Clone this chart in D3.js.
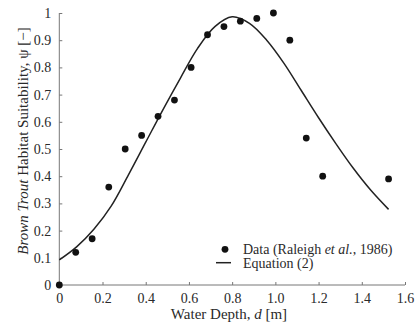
<!DOCTYPE html>
<html><head><meta charset="utf-8">
<script src="https://cdn.jsdelivr.net/npm/d3@7"></script>
<style>
html,body{margin:0;padding:0;background:#fff;}
svg{display:block;}
</style></head>
<body>
<svg id="chart" width="419" height="323"></svg>
<script>
// Observed data (Raleigh et al., 1986)
const dataDepth = [0, 0.076, 0.152, 0.229, 0.305, 0.381, 0.457, 0.533, 0.610, 0.686, 0.762, 0.838, 0.914, 0.991, 1.067, 1.143, 1.219, 1.524];
const dataPsi   = [0, 0.12, 0.17, 0.36, 0.50, 0.55, 0.62, 0.68, 0.80, 0.92, 0.95, 0.97, 0.98, 1.00, 0.90, 0.54, 0.40, 0.39];
// Equation (2) curve
const eqDepth = [0, 0.08, 0.16, 0.24, 0.32, 0.40, 0.48, 0.56, 0.64, 0.72, 0.80, 0.88, 0.96, 1.04, 1.12, 1.20, 1.28, 1.36, 1.44, 1.524];
const eqPsi   = [0.092, 0.14, 0.205, 0.29, 0.405, 0.525, 0.645, 0.76, 0.87, 0.95, 0.986, 0.962, 0.90, 0.815, 0.715, 0.615, 0.52, 0.43, 0.35, 0.278];
const xTicks = [0, 0.2, 0.4, 0.6, 0.8, 1.0, 1.2, 1.4, 1.6];
const xTickLabels = ["0", "0.2", "0.4", "0.6", "0.8", "1.0", "1.2", "1.4", "1.6"];
const yTicks = [0, 0.1, 0.2, 0.3, 0.4, 0.5, 0.6, 0.7, 0.8, 0.9, 1];
const yTickLabels = ["0", "0.1", "0.2", "0.3", "0.4", "0.5", "0.6", "0.7", "0.8", "0.9", "1"];

const FONT = '"Liberation Serif", "Times New Roman", Tinos, serif';
const svg = d3.select("#chart");
const x = d3.scaleLinear().domain([0, 1.6]).range([59.3, 405]);
const y = d3.scaleLinear().domain([0, 1]).range([285, 13]);
const axisColor = "#777";
const textColor = "#2a2a2a";
const fsTick = 14, fsTitle = 15, fsLegend = 14;

// X axis
const gx = svg.append("g").attr("transform", `translate(0,${y(0)})`)
  .call(d3.axisBottom(x).tickValues(xTicks).tickSize(-3).tickPadding(8)
        .tickFormat((d, i) => xTickLabels[i]));
gx.select(".domain").attr("stroke", axisColor).attr("d", `M${x(0)},0H${x(1.6)}`);
gx.selectAll(".tick line").attr("stroke", axisColor);
gx.selectAll(".tick text").attr("font-size", fsTick).attr("fill", textColor).style("font-family", FONT);

// Y axis
const gy = svg.append("g").attr("transform", `translate(${x(0)},0)`)
  .call(d3.axisLeft(y).tickValues(yTicks).tickSize(-3).tickPadding(8)
        .tickFormat((d, i) => yTickLabels[i]));
gy.select(".domain").attr("stroke", axisColor).attr("d", `M0,${y(0)}V${y(1)}`);
gy.selectAll(".tick line").attr("stroke", axisColor);
gy.selectAll(".tick text").attr("font-size", fsTick).attr("fill", textColor).style("font-family", FONT);

// Curve
const line = d3.line().x(d => x(d[0])).y(d => y(d[1])).curve(d3.curveCatmullRom.alpha(0.5));
svg.append("path").datum(eqDepth.map((d, i) => [d, eqPsi[i]]))
  .attr("d", line).attr("fill", "none").attr("stroke", "#222").attr("stroke-width", 1.5);

// Points
svg.append("g").selectAll("circle").data(dataDepth.map((d, i) => [d, dataPsi[i]]))
  .join("circle").attr("cx", d => x(d[0])).attr("cy", d => y(d[1])).attr("r", 3.4).attr("fill", "#111");

// Axis titles
const xt = svg.append("text").attr("x", 229).attr("y", 318.5).attr("text-anchor", "middle")
  .attr("font-size", fsTitle).attr("fill", textColor).style("font-family", FONT);
xt.append("tspan").text("Water Depth, ");
xt.append("tspan").attr("font-style", "italic").text("d");
xt.append("tspan").text(" [m]");

const yt = svg.append("text").attr("transform", "translate(28,141) rotate(-90)")
  .attr("text-anchor", "middle").attr("font-size", fsTitle).attr("fill", textColor).style("font-family", FONT);
yt.append("tspan").attr("font-style", "italic").text("Brown Trout");
yt.append("tspan").text(" Habitat Suitability, ψ [−]");

// Legend
svg.append("circle").attr("cx", 225).attr("cy", 249.3).attr("r", 3.4).attr("fill", "#111");
const lt = svg.append("text").attr("x", 243).attr("y", 254).attr("font-size", fsLegend).attr("fill", textColor).style("font-family", FONT);
lt.append("tspan").text("Data (Raleigh ");
lt.append("tspan").attr("font-style", "italic").text("et al.");
lt.append("tspan").text(", 1986)");
svg.append("line").attr("x1", 216).attr("x2", 231).attr("y1", 262.7).attr("y2", 262.7)
  .attr("stroke", "#222").attr("stroke-width", 1.5);
svg.append("text").attr("x", 243).attr("y", 267.5).attr("font-size", fsLegend).attr("fill", textColor)
  .style("font-family", FONT).text("Equation (2)");
</script>
</body></html>
